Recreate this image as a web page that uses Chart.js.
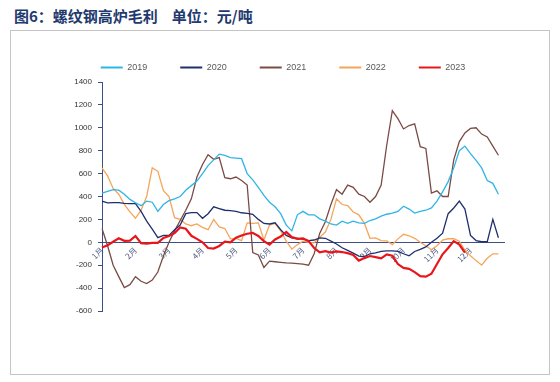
<!DOCTYPE html>
<html>
<head>
<meta charset="utf-8">
<script src="https://cdn.jsdelivr.net/npm/chart.js@4.4.0/dist/chart.umd.min.js"></script>
<style>
  body { margin: 0; background: #fff; width: 560px; height: 382px; overflow: hidden; position: relative; }
  #title { position: absolute; left: 14px; top: 5px; font: bold 15px "Noto Sans CJK SC", sans-serif; color: #1f3a6e; white-space: pre; }
  #title span { margin-left: 14px; }
  #frame { position: absolute; left: 10px; top: 30px; width: 538px; height: 343px; border: 1px solid #c4c4c4; }
  #chart { position: absolute; left: 0; top: 0; }
</style>
</head>
<body>
<div id="title">图6：螺纹钢高炉毛利<span>单位：元/吨</span></div>
<div id="frame"></div>
<canvas id="chart" width="560" height="382"></canvas>

<script>
// ================= DATA =================
const months = ["1月", "2月", "3月", "4月", "5月", "6月", "7月", "8月", "9月", "10月", "11月", "12月"];
const pointsPerMonth = 6;   // ~5 days per point, 73 points per year

const years = ["2019", "2020", "2021", "2022", "2023"];
const colors = ["#2fb4e6", "#1f2f6e", "#7a4a44", "#f5a55a", "#e8161b"];

const margin2019 = [430, 445, 460, 455, 420, 375, 345, 320, 360, 350,
  270, 330, 364, 380, 400, 455, 495, 535, 600, 670,
  720, 770, 760, 740, 735, 730, 600, 545, 480, 410,
  350, 310, 250, 150, 100, 240, 270, 240, 240, 205,
  185, 160, 150, 185, 165, 185, 170, 165, 190, 205,
  228, 245, 255, 270, 315, 290, 255, 270, 280, 300,
  360, 440, 530, 650, 800, 840, 775, 715, 650, 540,
  515, 420, 340];

const margin2020 = [360, 345, 346, 346, 340, 338, 338, 270, 185, 115,
  40, 60, 60, 110, 150, 250, 259, 259, 210, 250,
  310, 295, 280, 276, 270, 258, 252, 245, 200, 165,
  160, 170, 110, 60, 38, 33, 28, 15, 20, 38,
  35, 10, -15, -48, -70, -95, -120, -125, -100, -92,
  -80, -75, -75, -80, -100, -118, -80, -62, -40, 0,
  35, 80, 250, 300, 360, 290, 60, 15, 5, 5,
  200, 40, 80];

const margin2021 = [120, -30, -200, -300, -395, -370, -300, -340, -360, -330,
  -260, -120, 0, 100, 190, 280, 380, 570, 680, 765,
  725, 740, 565, 555, 570, 540, 500, -90, -110, -220,
  -165, -170, -175, -180, -182, -186, -190, -200, -100, 80,
  180, 330, 460, 420, 500, 480, 420, 400, 350, 400,
  500, 850, 1150, 1080, 990, 1020, 1035, 835, 820, 430,
  450, 400, 400, 720, 880, 955, 995, 1000, 945, 920,
  840, 760, 730];

const margin2022 = [650, 580, 470, 420, 330, 265, 210, 280, 400, 650,
  620, 450, 400, 215, 200, 160, 145, 160, 130, 110,
  200, 135, 120, 30, 35, 15, 170, 165, 170, 20,
  150, 165, 100, 10, -60, -20, 10, 0, -5, 45,
  90, 200, 380, 330, 320, 265, 240, 165, 35, 38,
  15, 13, -20, 30, 70, 57, 35, 0, -30, -65,
  -30, 20, 31, 31, 10, -70, -118, -160, -200, -140,
  -101, -101, -118];

const margin2023 = [-45, -25, 5, 35, 13, 15, 55, -8, -12, -5,
  -5, 38, 55, 80, 130, 118, 57, 30, 0, -50,
  -55, -32, 5, 0, 40, 60, 75, 82, 55, 10,
  -20, 25, 50, 90, 45, 30, 35, 10, -50, -88,
  -78, -90, -80, -85, -95, -110, -160, -138, -120, -130,
  -140, -105, -118, -190, -224, -232, -260, -295, -300, -275,
  -190, -105, -50, 10, -20, -90, null, null, null, null,
  null, null, null];

const yTicks = { min: -600, max: 1400, step: 200 };

// ================= CHART =================
const labels = margin2019.map((_, i) => i % pointsPerMonth === 0 ? months[i / pointsPerMonth] : "");
const series = [margin2019, margin2020, margin2021, margin2022, margin2023];
const axisColor = "#3d4f88";

const datasets = series.map((data, i) => ({
  label: years[i],
  data,
  borderColor: colors[i],
  backgroundColor: colors[i],
  borderWidth: i === 4 ? 2.2 : 1.3,
  pointRadius: 0,
  tension: 0,
  spanGaps: false,
  order: i === 4 ? 0 : 1   // 2023 on top
}));

new Chart(document.getElementById("chart"), {
  type: "line",
  data: { labels, datasets },
  options: {
    responsive: false,
    animation: false,
    layout: { padding: { left: 62, right: 56, top: 30, bottom: 71 } },
    plugins: {
      tooltip: { enabled: false },
      legend: {
        position: "top",
        labels: {
          boxWidth: 22,
          boxHeight: 2,
          padding: 33,
          color: "#595959",
          font: { family: "Liberation Sans", size: 9 },
          sort: (a, b) => a.datasetIndex - b.datasetIndex,
          generateLabels: chart =>
            Chart.defaults.plugins.legend.labels.generateLabels(chart).map(l => ({ ...l, lineWidth: 0 }))
        }
      }
    },
    scales: {
      x: {
        position: { y: 0 },
        grid: { display: false, drawTicks: false },
        border: { color: axisColor, width: 1 },
        ticks: {
          autoSkip: false,
          minRotation: 45,
          maxRotation: 45,
          padding: 3,
          color: "#4d5b80",
          font: { family: "Noto Sans CJK SC", size: 8 }
        }
      },
      y: {
        min: yTicks.min,
        max: yTicks.max,
        afterFit: s => { s.width = 40; },
        grid: { drawOnChartArea: false, drawTicks: true, tickLength: 4, color: axisColor },
        border: { color: axisColor, width: 1 },
        ticks: {
          stepSize: yTicks.step,
          padding: 6,
          color: "#333",
          font: { family: "Liberation Sans", size: 8 },
          callback: v => String(v)
        }
      }
    }
  }
});
</script>
</body>
</html>
